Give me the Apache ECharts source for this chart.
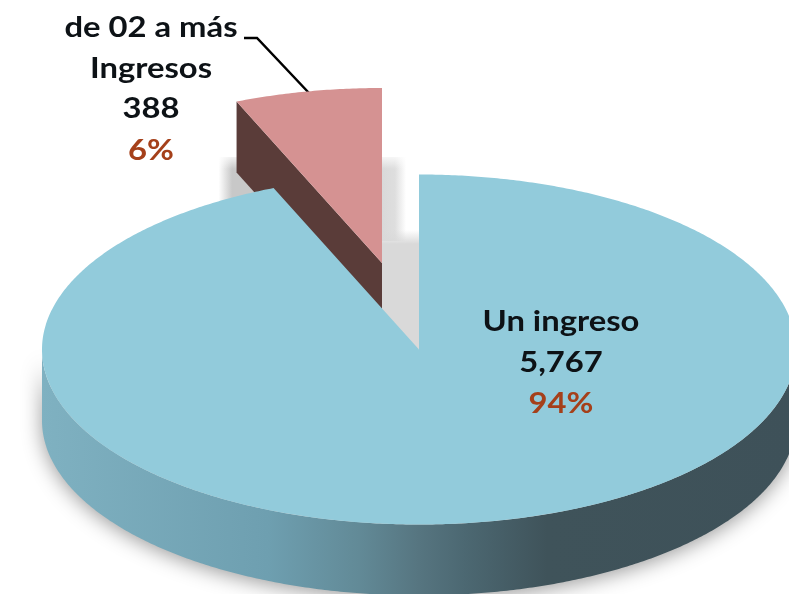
<!DOCTYPE html>
<html>
<head>
<meta charset="utf-8">
<style>
  html, body { margin: 0; padding: 0; background: #fff; }
  #chart { width: 789px; height: 594px; }
</style>
</head>
<body>
<div id="chart"></div>
<script src="https://cdn.jsdelivr.net/npm/echarts@6/dist/echarts.min.js"></script>
<script>
// datos
const categories = ["Un ingreso", "de 02 a más\nIngresos"];
const values = [5767, 388];
const valueLabels = ["5,767", "388"];
const percentLabels = ["94%", "6%"];

// geometria de la torta
const cx = 419, cy = 349.5, rx = 377, ry = 175, depth = 71;
const explodeX = -37, explodeY = -86.5;
const total = values[0] + values[1];
const smallAngle = (values[1] / total) * Math.PI * 2;

// punto sobre la elipse, angulo desde arriba en sentido horario
function pt(a, ox, oy) {
  return [ox + rx * Math.sin(a), oy - ry * Math.cos(a)];
}
function arc(from, to, ox, oy) {
  const pts = [];
  const n = Math.ceil(Math.abs(to - from) / (Math.PI / 360));
  for (let i = 0; i <= n; i++) {
    pts.push(pt(from + ((to - from) * i) / n, ox, oy));
  }
  return pts;
}

const wallGradient = new echarts.graphic.LinearGradient(0, 0, 1, 0, [
  { offset: 0, color: "#7fb1c1" },
  { offset: 0.3, color: "#6e9fb0" },
  { offset: 0.42, color: "#628a97" },
  { offset: 0.5, color: "#567580" },
  { offset: 0.56, color: "#4c6872" },
  { offset: 0.67, color: "#3f535a" },
  { offset: 1, color: "#3e5159" },
]);

// el texto del original esta estirado a lo ancho
function textLine(t, x, y, color) {
  return {
    type: "text",
    z2: 20,
    x: x,
    y: y,
    scaleX: 1.13,
    style: {
      x: 0,
      y: 0,
      text: t,
      fill: color,
      font: "bold 29px Lato",
      align: "center",
      verticalAlign: "middle",
    },
  };
}

function labelLines(idx, x, y) {
  const lines = categories[idx].split("\n").concat(valueLabels[idx]);
  const out = lines.map((t, i) => textLine(t, x, y + i * 40.5, "#0d1216"));
  out.push(textLine(percentLabels[idx], x, y + lines.length * 40.5 + 1, "#a5401a"));
  return out;
}

function renderMain() {
  const wall = arc(Math.PI / 2, (Math.PI * 3) / 2, cx, cy)
    .concat(arc((Math.PI * 3) / 2, Math.PI / 2, cx, cy + depth));
  const top = [[cx, cy]].concat(arc(0, Math.PI * 2 - smallAngle, cx, cy));
  return {
    type: "group",
    children: [
      {
        type: "polygon",
        z2: 5,
        shape: { points: wall },
        style: {
          fill: wallGradient,
          shadowBlur: 20,
          shadowOffsetY: 3,
          shadowColor: "rgba(0,0,0,0.4)",
        },
      },
      { type: "polygon", z2: 6, shape: { points: top }, style: { fill: "#92cbdb" } },
    ].concat(labelLines(0, 561, 322)),
  };
}

function renderSmall() {
  const ox = cx + explodeX, oy = cy + explodeY;
  const left = pt(-smallAngle, ox, oy);
  const top = [[ox, oy]].concat(arc(-smallAngle, 0, ox, oy));
  const wall = [[ox, oy], left, [left[0], left[1] + depth], [ox, oy + depth]];
  const fadeRight = new echarts.graphic.LinearGradient(0, 0, 1, 0, [
    { offset: 0, color: "#d9d9d9" },
    { offset: 0.35, color: "#dedede" },
    { offset: 0.65, color: "#ffffff" },
    { offset: 1, color: "#ffffff" },
  ]);
  const fadeLeft = new echarts.graphic.LinearGradient(0, 0, 1, 0, [
    { offset: 0, color: "rgba(200,200,200,0)" },
    { offset: 0.3, color: "rgba(200,200,200,1)" },
    { offset: 1, color: "rgba(200,200,200,1)" },
  ]);
  const fadeTop = new echarts.graphic.LinearGradient(0, 0, 0, 1, [
    { offset: 0, color: "rgba(255,255,255,1)" },
    { offset: 1, color: "rgba(255,255,255,0)" },
  ]);
  const fadeGap = new echarts.graphic.LinearGradient(0, 0, 0, 1, [
    { offset: 0, color: "rgba(217,217,217,0)" },
    { offset: 1, color: "rgba(217,217,217,1)" },
  ]);
  return {
    type: "group",
    children: [
      // sombras en el hueco entre las dos porciones
      { type: "rect", z2: 1, shape: { x: ox, y: 157, width: cx - ox, height: 84 }, style: { fill: fadeRight } },
      { type: "rect", z2: 1, shape: { x: ox, y: 230, width: cx - ox, height: 14 }, style: { fill: fadeGap } },
      { type: "polygon", z2: 1, shape: { points: [[ox, 244], [cx, 244], [cx, cy], [ox, cy]] }, style: { fill: "#d9d9d9" } },
      { type: "rect", z2: 1, shape: { x: left[0] - 18, y: 157, width: 45, height: 48 }, style: { fill: fadeLeft } },
      { type: "rect", z2: 2, shape: { x: left[0] - 18, y: 153, width: cx - left[0] + 18, height: 16 }, style: { fill: fadeTop } },
      { type: "polygon", z2: 3, shape: { points: wall }, style: { fill: "#5a3c39" } },
      { type: "polygon", z2: 4, shape: { points: top }, style: { fill: "#d59292" } },
      // linea guia
      {
        type: "polyline",
        z2: 3,
        shape: { points: [[244, 38], [257, 38], [309, 93]] },
        style: { stroke: "#000", lineWidth: 2.5, fill: null },
      },
    ].concat(labelLines(1, 151, 28)),
  };
}

const chart = echarts.init(document.getElementById("chart"));
chart.setOption({
  backgroundColor: "#fff",
  animation: false,
  series: [
    {
      type: "custom",
      coordinateSystem: "none",
      silent: true,
      data: values,
      renderItem(params) {
        return params.dataIndex === 0 ? renderMain() : renderSmall();
      },
    },
  ],
});
</script>
</body>
</html>
